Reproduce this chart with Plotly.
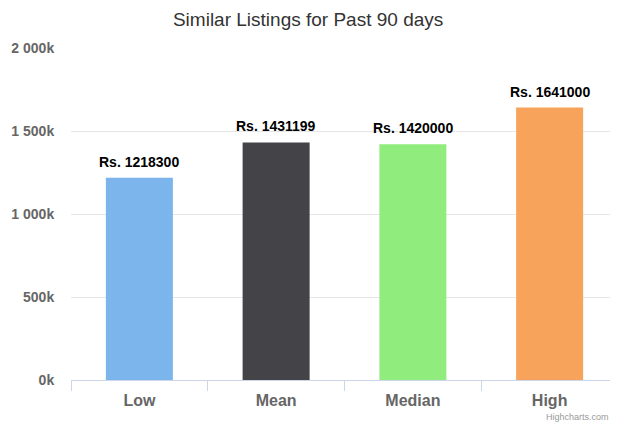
import plotly.graph_objects as go

categories = ["Low", "Mean", "Median", "High"]
values = [1218300, 1431199, 1420000, 1641000]
colors = ["#7cb5ec", "#434348", "#90ed7d", "#f7a35c"]
labels = ["Rs. 1218300", "Rs. 1431199", "Rs. 1420000", "Rs. 1641000"]
ytickvals = [0, 500000, 1000000, 1500000, 2000000]
yticktext = ["0k", "500k", "1 000k", "1 500k", "2 000k"]

FONT = "Liberation Sans, Arial, Helvetica, sans-serif"

# the page body adds an 8px offset; the figure is sized to fill the rest
W, H = 610, 418

fig = go.Figure()
fig.add_trace(go.Bar(
    x=categories, y=values, marker=dict(color=colors, line=dict(width=0)),
    width=0.49, hoverinfo="x+y",
))

for c, v, t in zip(categories, values, labels):
    fig.add_annotation(x=c, y=v, text="<b>%s</b>" % t, showarrow=False,
                       yanchor="bottom", yshift=6,
                       font=dict(family=FONT, size=14, color="#000000"))

fig.add_annotation(text="Highcharts.com", xref="paper", yref="paper",
                   x=1.0, y=-0.111, xanchor="right", yanchor="middle",
                   xshift=-7,
                   showarrow=False, font=dict(family=FONT, size=9, color="#999999"))

fig.update_layout(
    width=W, height=H,
    margin=dict(l=63, r=0, t=40, b=46, autoexpand=False),
    paper_bgcolor="white", plot_bgcolor="white",
    title=dict(text="Similar Listings for Past 90 days", x=0.492, xanchor="center",
               y=1 - 11 / H, yanchor="middle", yref="container",
               font=dict(family=FONT, size=19, color="#333333")),
    showlegend=False,
    bargap=0.51,
    xaxis=dict(type="category", tickson="boundaries", ticks="outside", ticklen=10,
               tickcolor="#ccd6eb", showline=True, linecolor="#ccd6eb", linewidth=1,
               showgrid=False, automargin=False, ticklabelstandoff=6,
               tickfont=dict(family=FONT, size=16, color="#666666", weight="bold"),
               range=[-0.5, 3.5]),
    yaxis=dict(range=[0, 2000000], tickvals=ytickvals, ticktext=yticktext,
               showgrid=True, gridcolor="#e6e6e6", gridwidth=1, zeroline=False,
               showline=False, ticks="outside", ticklen=13,
               tickcolor="rgba(0,0,0,0)", automargin=False,
               tickfont=dict(family=FONT, size=14, color="#666666", weight="bold")),
)

fig.write_html("out.html")
